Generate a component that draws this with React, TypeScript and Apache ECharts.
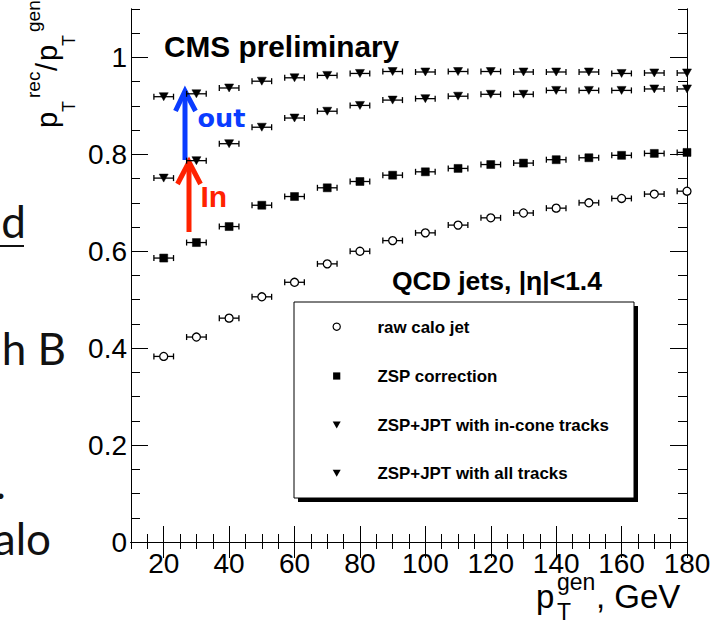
import React, { useEffect, useRef } from 'react';
import * as echarts from 'echarts';

// ---- data ----
const ptGen = [20, 30, 40, 50, 60, 70, 80, 90, 100, 110, 120, 130, 140, 150, 160, 170, 180];
const rawCalo = [0.383, 0.423, 0.462, 0.506, 0.536, 0.574, 0.600, 0.622, 0.638, 0.654, 0.669, 0.679, 0.689, 0.700, 0.709, 0.718, 0.724];
const zspCorr = [0.586, 0.618, 0.651, 0.695, 0.713, 0.731, 0.744, 0.757, 0.764, 0.771, 0.779, 0.782, 0.789, 0.793, 0.798, 0.802, 0.804];
const jptInCone = [0.751, 0.787, 0.822, 0.856, 0.875, 0.889, 0.901, 0.912, 0.915, 0.920, 0.924, 0.924, 0.932, 0.932, 0.932, 0.935, 0.935];
const jptAll = [0.919, 0.925, 0.937, 0.951, 0.958, 0.963, 0.967, 0.971, 0.970, 0.971, 0.971, 0.970, 0.970, 0.970, 0.967, 0.968, 0.968];
const xErr = 3;
const xMajorTicks = [20, 40, 60, 80, 100, 120, 140, 160, 180];
const yMajorTicks = [0, 0.2, 0.4, 0.6, 0.8, 1];
const seriesNames = ['raw calo jet', 'ZSP correction', 'ZSP+JPT with in-cone tracks', 'ZSP+JPT with all tracks'];

const HELV = '"Liberation Sans", Arial, sans-serif';
const BLUE = '#0a3cff';
const RED = '#ff2200';

const txt = (text: string, x: number, y: number, font: string, fill = '#000', align = 'left') => ({
  type: 'text',
  x,
  y,
  silent: true,
  style: { text, font, fill, align, verticalAlign: 'middle', textAlign: align, textVerticalAlign: 'middle' },
});

export default function App() {
  const ref = useRef<HTMLDivElement>(null);
  useEffect(() => {
    const chart = echarts.init(ref.current!, null, { renderer: 'svg' });

    const X_MAX = 180;
    const LABEL_FS = 28;
    const LABEL_MARGIN = 7;
    const lineSt = { color: '#000', width: 1 };
    const xBase = {
      type: 'value', min: 10, max: X_MAX,
      axisLine: { show: true, lineStyle: lineSt },
      splitLine: { show: false },
      axisLabel: { show: false },
    };
    const yBase = {
      type: 'value', min: 0, max: 1.1,
      axisLine: { show: true, lineStyle: lineSt },
      splitLine: { show: false },
      axisLabel: { show: false },
    };
    const tickSt = (len: number, custom?: number[]) => ({
      show: true, inside: true, length: len, lineStyle: lineSt,
      ...(custom ? { customValues: custom } : {}),
    });

    const defs = [
      { vals: rawCalo, symbol: 'circle', size: 8, rot: 0, fill: '#fff' },
      { vals: zspCorr, symbol: 'rect', size: 8, rot: 0, fill: '#000' },
      { vals: jptInCone, symbol: 'triangle', size: [9, 8], rot: 180, fill: '#000' },
      { vals: jptAll, symbol: 'triangle', size: [9, 8], rot: 180, fill: '#000' },
    ];

    const series: any[] = [];
    defs.forEach((d, k) => {
      const data = ptGen.map((x, i) => [x, d.vals[i]]);
      series.push({
        type: 'custom',
        name: seriesNames[k] + ' errors',
        data,
        clip: true,
        silent: true,
        z: 2,
        encode: { x: 0, y: 1 },
        renderItem: (_p: any, api: any) => {
          const x = api.value(0) as number;
          const y = api.value(1) as number;
          const a = api.coord([x - xErr, y]);
          const b = api.coord([x + xErr, y]);
          const c = 3;
          const st = { stroke: '#000', lineWidth: 1.3 };
          return {
            type: 'group',
            children: [
              { type: 'line', shape: { x1: a[0], y1: a[1], x2: b[0], y2: b[1] }, style: st },
              { type: 'line', shape: { x1: a[0], y1: a[1] - c, x2: a[0], y2: a[1] + c }, style: st },
              { type: 'line', shape: { x1: b[0], y1: b[1] - c, x2: b[0], y2: b[1] + c }, style: st },
            ],
          };
        },
      });
      series.push({
        type: 'scatter',
        name: seriesNames[k],
        data,
        symbol: d.symbol,
        symbolSize: d.size,
        symbolRotate: d.rot,
        clip: false,
        z: 3,
        itemStyle: { color: d.fill, borderColor: '#000', borderWidth: d.fill === '#fff' ? 1.3 : 0.5, opacity: 1 },
      });
    });

    const legendRows = [326.7, 376, 425, 473.3];
    const mx = 336.7;

    const graphic: any[] = [
      // slide text cut at left edge
      txt('d', 26, 221, '44px Lato, sans-serif', '#111', 'right'),
      { type: 'line', silent: true, shape: { x1: 0, y1: 246, x2: 24, y2: 246 }, style: { stroke: '#111', lineWidth: 2 } },
      txt('h B', 66, 348, '44px Lato, sans-serif', '#111', 'right'),
      txt('.', 6, 482, '44px Lato, sans-serif', '#111', 'right'),
      txt('alo', 51, 538, '44px Lato, sans-serif', '#111', 'right'),
      // in-plot labels
      txt('CMS preliminary', 164, 46.5, `bold 29.8px ${HELV}`),
      txt('QCD jets, |η|<1.4', 392, 281, `bold 26.5px ${HELV}`),
      // arrows
      { type: 'line', silent: true, shape: { x1: 185, y1: 160, x2: 185, y2: 93 }, style: { stroke: BLUE, lineWidth: 5 } },
      { type: 'polyline', silent: true, shape: { points: [[175.5, 111], [185, 91], [195.5, 111]] }, style: { stroke: BLUE, lineWidth: 5, fill: null, lineJoin: 'miter' } },
      txt('out', 197.5, 118, 'bold 25.5px "DejaVu Sans", sans-serif', BLUE),
      { type: 'line', silent: true, shape: { x1: 189, y1: 232, x2: 189, y2: 165 }, style: { stroke: RED, lineWidth: 5 } },
      { type: 'polyline', silent: true, shape: { points: [[177.5, 184], [189, 162], [200.5, 184]] }, style: { stroke: RED, lineWidth: 5, fill: null, lineJoin: 'miter' } },
      txt('In', 200.5, 196.2, `bold 30px ${HELV}`, RED),
      // legend box
      { type: 'rect', silent: true, shape: { x: 298, y: 306, width: 340, height: 196 }, style: { fill: '#000' } },
      { type: 'rect', silent: true, shape: { x: 294, y: 302, width: 340, height: 196 }, style: { fill: '#fff', stroke: '#000', lineWidth: 1 } },
      { type: 'circle', silent: true, shape: { cx: mx, cy: legendRows[0], r: 3.6 }, style: { fill: '#fff', stroke: '#000', lineWidth: 1.2 } },
      { type: 'rect', silent: true, shape: { x: mx - 3.6, y: legendRows[1] - 3.6, width: 7.2, height: 7.2 }, style: { fill: '#000' } },
      { type: 'polygon', silent: true, shape: { points: [[mx - 4, legendRows[2] - 3.5], [mx + 4, legendRows[2] - 3.5], [mx, legendRows[2] + 3.5]] }, style: { fill: '#000' } },
      { type: 'polygon', silent: true, shape: { points: [[mx - 4, legendRows[3] - 3.5], [mx + 4, legendRows[3] - 3.5], [mx, legendRows[3] + 3.5]] }, style: { fill: '#000' } },
      ...seriesNames.map((n, i) => txt(n, 377.5, legendRows[i] + 0.3, `bold 16.9px ${HELV}`)),
      // y axis title (rotated)
      {
        type: 'group', x: 56.7, y: 128, rotation: Math.PI / 2, silent: true,
        children: [
          txt('p', 0, -10.2, `29px ${HELV}`),
          txt('T', 16, 12.5, `18px ${HELV}`),
          txt('rec', 30, -23.3, `19px ${HELV}`),
          txt('/', 57, -10.2, `29px ${HELV}`),
          txt('p', 67, -10.2, `29px ${HELV}`),
          txt('T', 82, 12.5, `18px ${HELV}`),
          txt('gen', 96, -23.3, `19px ${HELV}`),
        ],
      },
      // x axis title
      txt('p', 536, 596.5, `33px ${HELV}`),
      txt('gen', 557, 582, `23px ${HELV}`),
      txt('T', 557, 612, `23px ${HELV}`),
      txt(', GeV', 596, 596.5, `33px ${HELV}`),
    ];

    const inner = xMajorTicks.filter((v) => v < X_MAX);
    const edge = xMajorTicks.filter((v) => v >= X_MAX);

    const option: any = {
      animation: false,
      backgroundColor: '#fff',
      grid: { left: 131, right: 23, top: 9, bottom: 79 },
      xAxis: [
        { ...xBase, position: 'bottom', interval: 5, axisTick: tickSt(8) },
        {
          ...xBase, position: 'bottom', axisTick: tickSt(16, xMajorTicks),
          axisLabel: { show: true, customValues: inner, fontSize: LABEL_FS, fontFamily: HELV, color: '#000', margin: LABEL_MARGIN },
        },
        { ...xBase, position: 'top', interval: 5, axisTick: tickSt(7) },
        { ...xBase, position: 'top', axisTick: tickSt(16, xMajorTicks) },
      ],
      yAxis: [
        { ...yBase, position: 'left', interval: 0.05, axisTick: tickSt(9) },
        {
          ...yBase, position: 'left', axisTick: tickSt(17, yMajorTicks),
          axisLabel: { show: true, customValues: yMajorTicks, fontSize: 28, fontFamily: HELV, color: '#000', margin: 4 },
        },
        { ...yBase, position: 'right', interval: 0.05, axisTick: tickSt(9) },
        { ...yBase, position: 'right', axisTick: tickSt(17, yMajorTicks) },
      ],
      series,
      graphic,
    };
    chart.setOption(option);

    // edge tick label, centred on its tick as in the reference (the axis shifts it inward)
    const axisY = chart.convertToPixel({ yAxisIndex: 1 }, 0) as number;
    const edgeLabels = edge.map((v) => {
      const px = chart.convertToPixel({ xAxisIndex: 1 }, v) as number;
      return txt(String(v), px, axisY + LABEL_MARGIN + LABEL_FS / 2, `${LABEL_FS}px ${HELV}`, '#000', 'center');
    });
    chart.setOption({ graphic: [...graphic, ...edgeLabels] });

    return () => chart.dispose();
  }, []);
  return (
    <div
      ref={ref}
      style={{ position: 'absolute', left: 0, top: 0, width: 710, height: 621, background: '#fff' }}
    />
  );
}
